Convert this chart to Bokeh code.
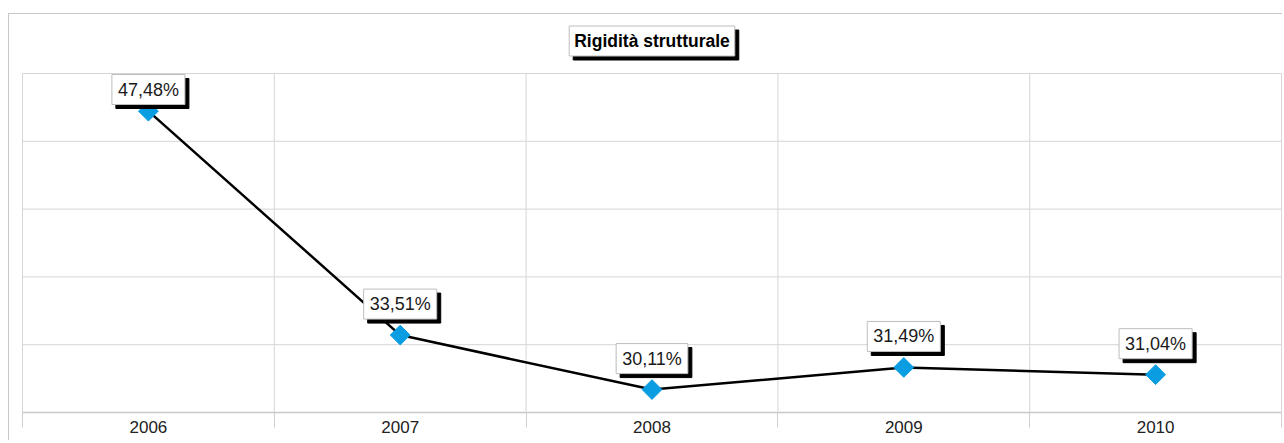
import numpy as np
from bokeh.plotting import figure
from bokeh.models import Range1d, FixedTicker, Label, ColumnDataSource
from bokeh.core.properties import value
from bokeh.embed import file_html
from bokeh.resources import INLINE

# Series data
years = ["2006", "2007", "2008", "2009", "2010"]
rigidita = [47.48, 33.51, 30.11, 31.49, 31.04]
title_text = "Rigidità strutturale"

# value labels in Italian number format
label_text = [f"{v:.2f}%".replace(".", ",") for v in rigidita]

Y_MIN, Y_MAX = 28.68, 49.83          # extent of the plot area
PLOT_W, PLOT_H = 1259, 339           # plot area size in px
HEAD = 59                            # space above the plot area for the title
PAD = 1                              # px kept beside the plot-area edges
FONT = "Liberation Sans"
GRID = "#d6d6d6"
MARKER = "#0a9de2"
SHADOW = 4
BOX_H = 31
GAP = 16

n = len(years)
xs = list(range(n))
bounds = [i - 0.5 for i in range(n + 1)]          # category boundaries
levels = list(np.linspace(Y_MIN, Y_MAX, 6))[1:]   # horizontal grid levels

upp_y = (Y_MAX - Y_MIN) / PLOT_H     # data units per px
upp_x = n / PLOT_W

# labels sit GAP px above their point, but never leave the plot area
px_top = [(Y_MAX - v) / upp_y for v in rigidita]
dy = [-GAP if py - GAP - BOX_H >= 0 else BOX_H - py for py in px_top]

src = ColumnDataSource(dict(
    x=xs, y=rigidita, txt=label_text,
    dy=dy, dy_sh=[d + SHADOW for d in dy],
))

p = figure(
    frame_width=PLOT_W + 2 * PAD, frame_height=PLOT_H + HEAD,
    x_range=Range1d(-0.5 - PAD * upp_x, n - 0.5 + PAD * upp_x),
    y_range=Range1d(Y_MIN, Y_MAX + HEAD * upp_y),
    output_backend="svg", toolbar_location=None,
    min_border_left=12, min_border_right=0,
    min_border_top=0, min_border_bottom=28,
)
p.margin = (13, 0, 0, 8)
p.styles = {"border-top": "1px solid #c8c8c8", "border-left": "1px solid #c8c8c8"}

p.background_fill_color = "white"
p.border_fill_color = "white"
p.outline_line_color = None
p.xgrid.grid_line_color = None
p.ygrid.grid_line_color = None
p.yaxis.visible = False

# grid limited to the plot area: category boundaries and five bands
p.segment(x0=bounds, y0=[Y_MIN] * len(bounds), x1=bounds, y1=[Y_MAX] * len(bounds),
          line_color=GRID, line_width=1)
p.segment(x0=[-0.5] * len(levels), y0=levels, x1=[n - 0.5] * len(levels), y1=levels,
          line_color=GRID, line_width=1)

ax = p.xaxis[0]
ax.bounds = (-0.5, n - 0.5)
ax.ticker = FixedTicker(ticks=xs, minor_ticks=bounds)
ax.major_label_overrides = {i: y for i, y in enumerate(years)}
ax.major_tick_line_color = None
ax.major_tick_in = 0
ax.major_tick_out = 0
ax.minor_tick_in = 0
ax.minor_tick_out = 15
ax.minor_tick_line_color = "#cfcfcf"
ax.axis_line_color = "#c8c8c8"
ax.axis_line_width = 1.5
ax.major_label_standoff = -7
ax.major_label_text_font = FONT
ax.major_label_text_font_size = "17px"
ax.major_label_text_color = "#222222"

p.line("x", "y", source=src, line_color="black", line_width=2.5)
p.scatter("x", "y", source=src, marker="square", angle=np.pi / 4,
          size=14, fill_color=MARKER, line_color=MARKER)

common = dict(
    x="x", y="y", text="txt", source=src,
    text_align="center", text_baseline="bottom",
    text_font=value(FONT), text_font_size="18px", padding=(6, 5),
)
p.text(x_offset=SHADOW, y_offset="dy_sh", text_color="black",
       background_fill_color="black", border_line_color="black", **common)
p.text(x_offset=0, y_offset="dy", text_color="#1a1a1a",
       background_fill_color="white", border_line_color="#bdbdbd", **common)

# chart title, centred in the band above the plot area
title_common = dict(
    x=(n - 1) / 2, y=Y_MAX + 32.5 * upp_y,
    text=title_text, text_align="center", text_baseline="middle",
    text_font=FONT, text_font_style="bold", text_font_size="17.5px",
    padding=(5, 5),
)
p.add_layout(Label(x_offset=SHADOW, y_offset=-SHADOW, text_color="black",
                   background_fill_color="black", border_line_color="black",
                   **title_common))
p.add_layout(Label(text_color="black", background_fill_color="white",
                   border_line_color="#bdbdbd", **title_common))

open("out.html", "w").write(file_html(p, INLINE))
